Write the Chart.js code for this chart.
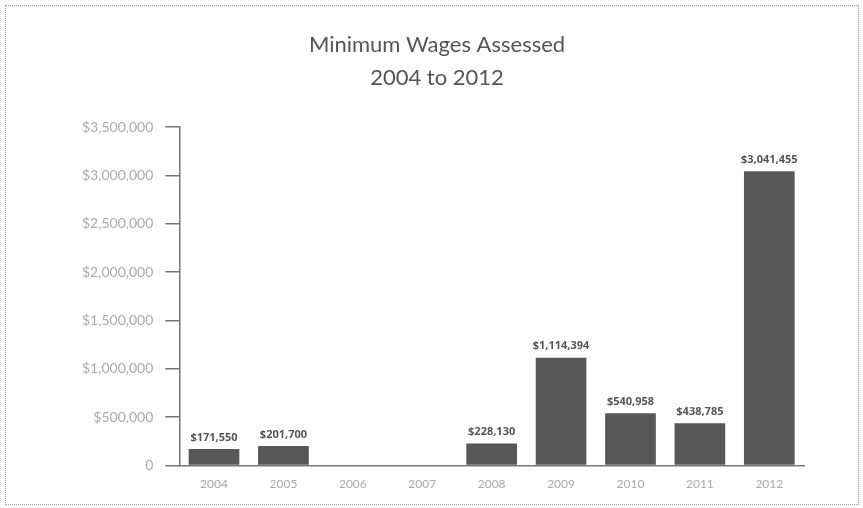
<!DOCTYPE html>
<html lang="en">
<head>
  <meta charset="UTF-8">
  <script src="https://cdn.jsdelivr.net/npm/chart.js"></script>
  <style>
    body, html {
      margin: 0;
      padding: 0;
      background: #fff;
    }
    .frame {
      position: absolute;
      left: 5px;
      top: 5px;
      width: 852px;
      height: 498px;
      border: 1px dotted #9a9a9a;
    }
  </style>
</head>
<body>
  <div class="frame">
    <canvas id="wages-chart" width="852" height="498"></canvas>
  </div>
  <script>
    const years = ['2004', '2005', '2006', '2007', '2008', '2009', '2010', '2011', '2012'];
    const wagesAssessed = [171550, 201700, null, null, 228130, 1114394, 540958, 438785, 3041455];
    const titleLines = ['Minimum Wages Assessed', '2004 to 2012'];

    function money(v) {
      if (v === 0) return '0';
      return '$' + v.toLocaleString('en-US');
    }

    // draws the value above every bar
    const barValues = {
      id: 'barValues',
      afterDatasetsDraw(chart) {
        const ctx = chart.ctx;
        const meta = chart.getDatasetMeta(0);
        ctx.save();
        ctx.fillStyle = '#555';
        ctx.font = 'bold 11px "Open Sans", sans-serif';
        ctx.textAlign = 'center';
        ctx.textBaseline = 'bottom';
        meta.data.forEach((bar, i) => {
          const v = chart.data.datasets[0].data[i];
          if (v == null) return;
          ctx.fillText(money(v), bar.x, bar.y - 6);
        });
        ctx.restore();
      }
    };

    new Chart(document.getElementById('wages-chart'), {
      type: 'bar',
      data: {
        labels: years,
        datasets: [{
          label: 'Minimum wages assessed',
          data: wagesAssessed,
          backgroundColor: '#575757',
          categoryPercentage: 1,
          barPercentage: 0.73
        }]
      },
      plugins: [barValues],
      options: {
        responsive: false,
        animation: false,
        layout: {
          padding: { left: 64, right: 54, top: 22, bottom: 10 }
        },
        plugins: {
          legend: { display: false },
          tooltip: { enabled: false },
          title: {
            display: true,
            text: titleLines,
            color: '#555',
            font: { family: 'Lato, sans-serif', size: 22, weight: 'normal', lineHeight: 1.5 },
            padding: { top: 0, bottom: 33 }
          }
        },
        scales: {
          x: {
            grid: { display: false },
            border: { display: true, color: '#777', width: 1.5 },
            ticks: {
              color: '#aaa',
              font: { family: 'Lato, sans-serif', size: 12 },
              padding: 3
            }
          },
          y: {
            min: 0,
            max: 3500000,
            grid: {
              drawOnChartArea: false,
              drawTicks: true,
              tickLength: 14,
              color: '#777',
              lineWidth: 1.5
            },
            border: { display: true, color: '#777', width: 1.5 },
            ticks: {
              stepSize: 500000,
              color: '#aaa',
              font: { family: 'Lato, sans-serif', size: 14 },
              padding: 12,
              callback: (v) => money(v)
            }
          }
        }
      }
    });
  </script>
</body>
</html>
